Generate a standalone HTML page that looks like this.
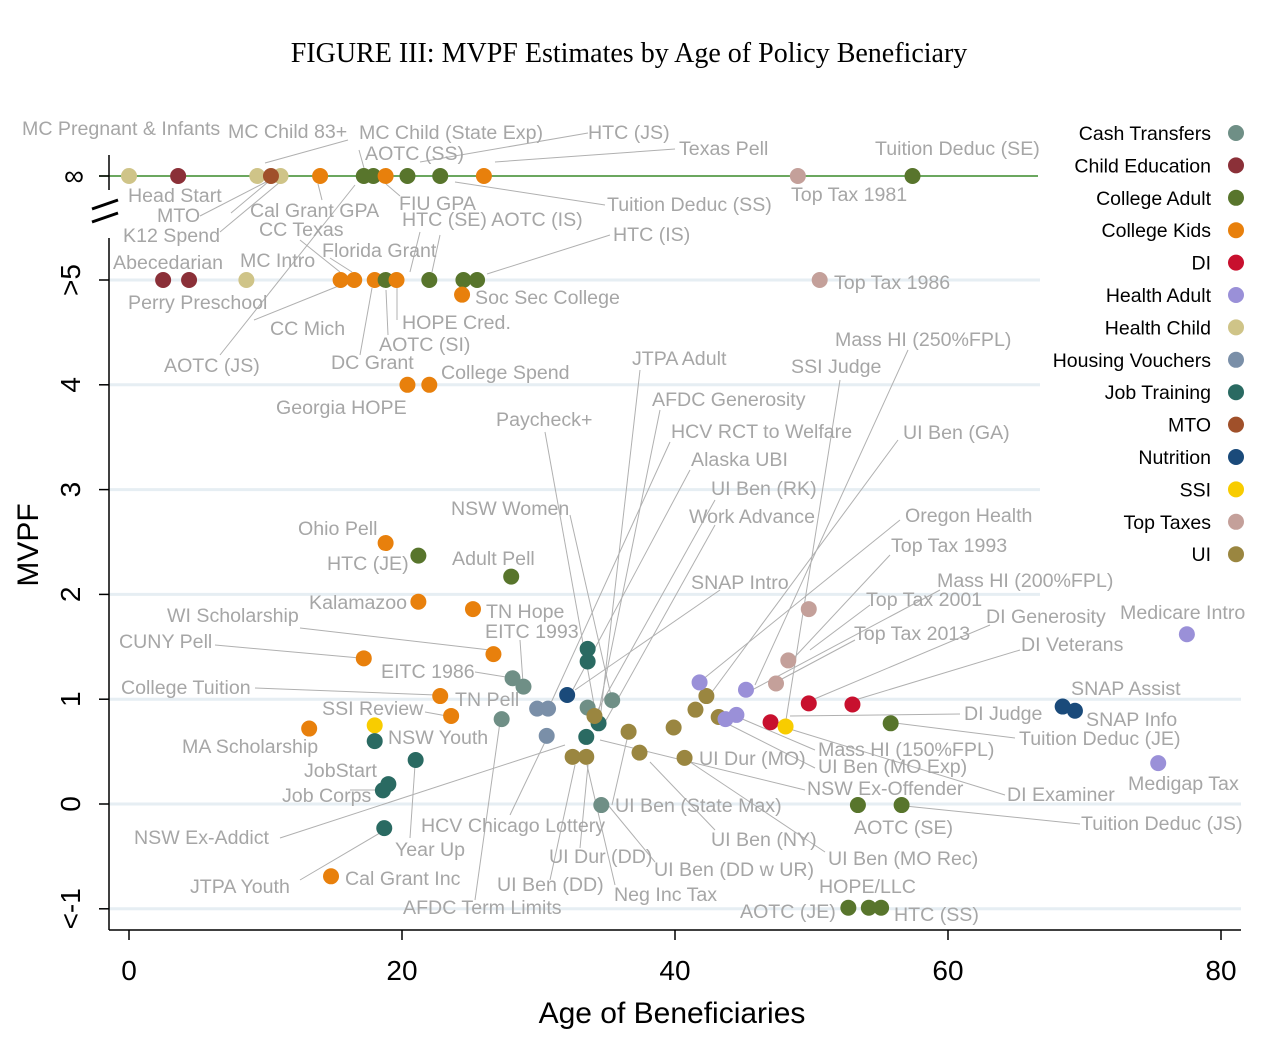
<!DOCTYPE html>
<html><head><meta charset="utf-8"><style>
body{margin:0;background:#fff;}
svg{display:block;font-family:"Liberation Sans",sans-serif;}
.lbl{fill:#a6a6a6;font-size:19.6px;}
</style></head><body>
<svg id="c" width="1268" height="1048">
<text x="629" y="62" text-anchor="middle" font-family="Liberation Serif" font-size="28">FIGURE III: MVPF Estimates by Age of Policy Beneficiary</text>
<g id="grid"></g><g id="leaders"></g><g id="axes"></g><g id="pts"></g><g id="labels"></g><g id="legend"></g>
</svg>
<script>
const categories=["Cash Transfers","Child Education","College Adult","College Kids","DI","Health Adult","Health Child","Housing Vouchers","Job Training","MTO","Nutrition","SSI","Top Taxes","UI"];
const catColors=["#6f8f86","#8b3038","#58752c","#e8800c","#c8102e","#9a90d8","#cfc488","#7a8fa8","#2a6a62","#a0502a","#1a4a7a","#f8cc00","#c4a09a","#9a8640"];
// ages, mvpf (6 = infinity, 5 = >5), category index
const ages=[0,3.6,9.4,11.1,10.4,14.0,17.2,17.9,18.8,20.4,22.8,26.0,49.0,57.4,
2.5,4.4,8.6,15.5,16.5,18.0,18.8,19.6,22.0,24.5,25.5,50.6,24.4,
20.4,22.0,18.8,21.2,28.0,21.2,25.2,17.2,26.7,28.1,28.9,22.8,13.2,23.6,18.0,18.0,21.0,19.0,18.6,18.7,14.8,27.3,
29.9,30.7,30.6,32.1,33.6,33.6,35.4,33.6,34.4,34.1,33.5,32.5,33.5,34.6,36.6,37.4,39.9,40.7,41.5,42.3,43.2,
41.8,43.7,44.5,45.2,47.4,48.3,49.8,47.0,49.8,53.0,48.1,55.8,53.4,56.6,52.7,54.2,55.1,68.4,69.3,77.5,75.4];
const mvpf=[6,6,6,6,6,6,6,6,6,6,6,6,6,6,
5,5,5,5,5,5,5,5,5,5,5,5,4.86,
4.0,4.0,2.49,2.37,2.17,1.93,1.86,1.39,1.43,1.20,1.12,1.03,0.72,0.84,0.75,0.60,0.42,0.19,0.13,-0.23,-0.69,0.81,
0.91,0.91,0.65,1.04,1.48,1.36,0.99,0.92,0.77,0.84,0.64,0.45,0.45,-0.01,0.69,0.49,0.73,0.44,0.90,1.03,0.83,
1.16,0.81,0.85,1.09,1.15,1.37,1.86,0.78,0.96,0.95,0.74,0.77,-0.01,-0.01,-0.99,-0.99,-0.99,0.93,0.89,1.62,0.39];
const cat=[6,1,6,6,9,3,2,2,3,2,2,3,12,2,
1,1,6,3,3,3,2,3,2,2,2,12,3,
3,3,3,2,2,3,3,3,3,0,0,3,3,3,11,8,8,8,8,8,3,0,
7,7,7,10,8,8,0,0,8,13,8,13,13,0,13,13,13,13,13,13,13,
5,5,5,5,12,12,12,4,4,4,11,2,2,2,2,2,2,10,10,5,5];
const yTickVals=[-1,0,1,2,3,4,5,6];
const yTickLabels=["<-1","0","1","2","3","4",">5","∞"];
const xTickVals=[0,20,40,60,80];
const X=a=>129+a*13.65;
const Y=v=>v>=6?176:804-v*104.8;
const NS="http://www.w3.org/2000/svg";
function mk(p,t,at){const e=document.createElementNS(NS,t);for(const k in at)e.setAttribute(k,at[k]);p.appendChild(e);return e;}
const grid=document.getElementById('grid'),axes=document.getElementById('axes');
yTickVals.forEach((v,i)=>{
 if(v<6){const g=mk(grid,'line',{x1:109,x2:v>=2?1040:1241,y1:Y(v),y2:Y(v),stroke:'#e6eef3','stroke-width':3});
 
 }
 const tk=mk(axes,'line',{x1:99,x2:109,y1:Y(v),y2:Y(v),stroke:'#000','stroke-width':1.5});
 
 
 const t=mk(axes,'text',{x:0,y:0,'font-size':28,'text-anchor':'middle',transform:v>=6?`translate(74,${Y(v)+9})`:`translate(80,${Y(v)}) rotate(-90)`});
 t.textContent=yTickLabels[i];
 
 
});
const inf=mk(grid,'line',{x1:99,x2:1038,y1:176,y2:176,stroke:'#3a8a2a','stroke-width':1.5});


mk(axes,'line',{x1:109,x2:109,y1:155,y2:190,stroke:'#000','stroke-width':1.5});
mk(axes,'line',{x1:109,x2:109,y1:238,y2:930,stroke:'#000','stroke-width':1.5});
mk(axes,'line',{x1:92,x2:118,y1:209,y2:200,stroke:'#000','stroke-width':3});
mk(axes,'line',{x1:92,x2:118,y1:222,y2:213,stroke:'#000','stroke-width':3});
mk(axes,'line',{x1:109,x2:1241,y1:930,y2:930,stroke:'#000','stroke-width':1.5});
xTickVals.forEach(v=>{
 mk(axes,'line',{x1:X(v),x2:X(v),y1:930,y2:940,stroke:'#000','stroke-width':1.5});
 const t=mk(axes,'text',{x:X(v),y:980,'font-size':28,'text-anchor':'middle'});t.textContent=v;
 
 
});
let t=mk(axes,'text',{x:672,y:1023,'font-size':30,'text-anchor':'middle'});t.textContent="Age of Beneficiaries";


t=mk(axes,'text',{x:0,y:0,'font-size':30,'text-anchor':'middle',transform:'translate(38,545) rotate(-90)'});t.textContent="MVPF";


const pts=document.getElementById('pts');
ages.forEach((a,i)=>{
 const c=mk(pts,'circle',{cx:X(a),cy:Y(mvpf[i]),r:8,fill:catColors[cat[i]]});
 
 
});
const leg=document.getElementById('legend');
categories.forEach((c,i)=>{
 const y=133+i*32.4;
 const tx=mk(leg,'text',{x:1211,y:y+7,'font-size':19.5,'text-anchor':'end'});tx.textContent=c;
 
 
 mk(leg,'circle',{cx:1236,cy:y,r:8,fill:catColors[i]});
});
const labels=[["MC Pregnant & Infants",22,129],["MC Child 83+",228,132],["MC Child (State Exp)",359,133],["HTC (JS)",588,133],["Texas Pell",679,149],["Tuition Deduc (SE)",875,149],["AOTC (SS)",365,154],["Head Start",128,196],["MTO",157,216],["Cal Grant GPA",250,211],["FIU GPA",399,204],["Tuition Deduc (SS)",607,205],["Top Tax 1981",791,195],["K12 Spend",123,236],["CC Texas",259,230],["HTC (SE) AOTC (IS)",402,220],["HTC (IS)",613,235],["Florida Grant",322,251],["Abecedarian",113,263],["MC Intro",240,261],["Top Tax 1986",834,283],["Soc Sec College",475,298],["Perry Preschool",128,303],["HOPE Cred.",402,323],["CC Mich",270,329],["AOTC (SI)",379,345],["Mass HI (250%FPL)",835,340],["JTPA Adult",632,359],["DC Grant",331,363],["SSI Judge",791,367],["AOTC (JS)",164,366],["College Spend",441,373],["AFDC Generosity",652,400],["Georgia HOPE",276,408],["Paycheck+",496,420],["HCV RCT to Welfare",671,432],["UI Ben (GA)",903,433],["Alaska UBI",691,460],["UI Ben (RK)",711,489],["NSW Women",451,509],["Work Advance",689,517],["Oregon Health",905,516],["Ohio Pell",298,529],["Top Tax 1993",891,546],["HTC (JE)",327,564],["Adult Pell",452,559],["SNAP Intro",691,583],["Mass HI (200%FPL)",937,581],["Top Tax 2001",866,600],["Kalamazoo",309,603],["WI Scholarship",167,616],["TN Hope",486,612],["DI Generosity",986,617],["Medicare Intro",1120,613],["EITC 1993",485,632],["Top Tax 2013",854,634],["CUNY Pell",119,642],["DI Veterans",1021,645],["EITC 1986",381,672],["SNAP Assist",1071,689],["College Tuition",121,688],["TN Pell",455,700],["SSI Review",322,709],["DI Judge",964,714],["SNAP Info",1086,720],["NSW Youth",388,738],["Tuition Deduc (JE)",1019,739],["MA Scholarship",182,747],["Mass HI (150%FPL)",818,750],["UI Dur (MO)",699,759],["UI Ben (MO Exp)",818,767],["JobStart",304,771],["NSW Ex-Offender",807,789],["Medigap Tax",1128,784],["Job Corps",282,796],["DI Examiner",1007,795],["UI Ben (State Max)",615,806],["AOTC (SE)",854,828],["Tuition Deduc (JS)",1081,824],["HCV Chicago Lottery",421,826],["NSW Ex-Addict",134,838],["UI Ben (NY)",711,840],["Year Up",395,850],["UI Dur (DD)",549,857],["UI Ben (MO Rec)",828,859],["UI Ben (DD w UR)",654,870],["JTPA Youth",190,887],["Cal Grant Inc",345,879],["UI Ben (DD)",497,885],["HOPE/LLC",819,887],["Neg Inc Tax",614,895],["AFDC Term Limits",403,908],["AOTC (JE)",740,912],["HTC (SS)",894,915]];
const lg=document.getElementById('labels');
labels.forEach(l=>{
 const e=mk(lg,'text',{x:l[1],y:l[2]+6,class:'lbl'});e.textContent=l[0];
 
 
});
const leaders=[[348,140,265,163],[359,150,364,168],[588,133,420,162],[675,149,495,162],[231,213,268,182],[200,216,270,180],[220,232,280,182],[322,200,318,184],[400,196,386,184],[605,205,455,182],[300,240,340,272],[420,232,410,272],[440,235,432,272],[610,235,487,274],[330,258,352,272],[254,320,341,285],[220,355,355,185],[360,355,372,288],[397,320,397,288],[388,335,386,290],[640,370,600,720],[660,410,598,715],[545,432,595,710],[670,442,550,705],[690,470,570,695],[715,500,595,715],[570,515,612,700],[715,525,605,722],[720,590,575,690],[908,350,755,685],[840,380,786,720],[898,440,712,692],[900,520,702,680],[890,555,792,660],[940,590,752,690],[870,605,810,650],[855,640,780,680],[990,625,812,700],[1020,650,855,700],[960,714,790,716],[1015,738,895,723],[815,750,740,718],[815,768,720,720],[805,790,600,740],[1005,795,780,726],[1080,824,905,806],[612,805,628,735],[715,830,650,762],[825,852,690,762],[655,862,608,805],[615,885,587,765],[550,880,575,765],[580,848,588,765],[475,900,500,722],[510,815,545,742],[410,838,415,765],[280,838,565,745],[300,880,385,830],[350,790,383,790],[475,672,512,678],[520,640,523,683],[300,628,490,650],[215,645,360,658],[255,688,436,695],[425,712,447,716]];
const ld=document.getElementById('leaders');
leaders.forEach(s=>{const e=mk(ld,'line',{x1:s[0],y1:s[1],x2:s[2],y2:s[3],stroke:'#b0b0b0','stroke-width':1});
 
 });
</script>
</body></html>
